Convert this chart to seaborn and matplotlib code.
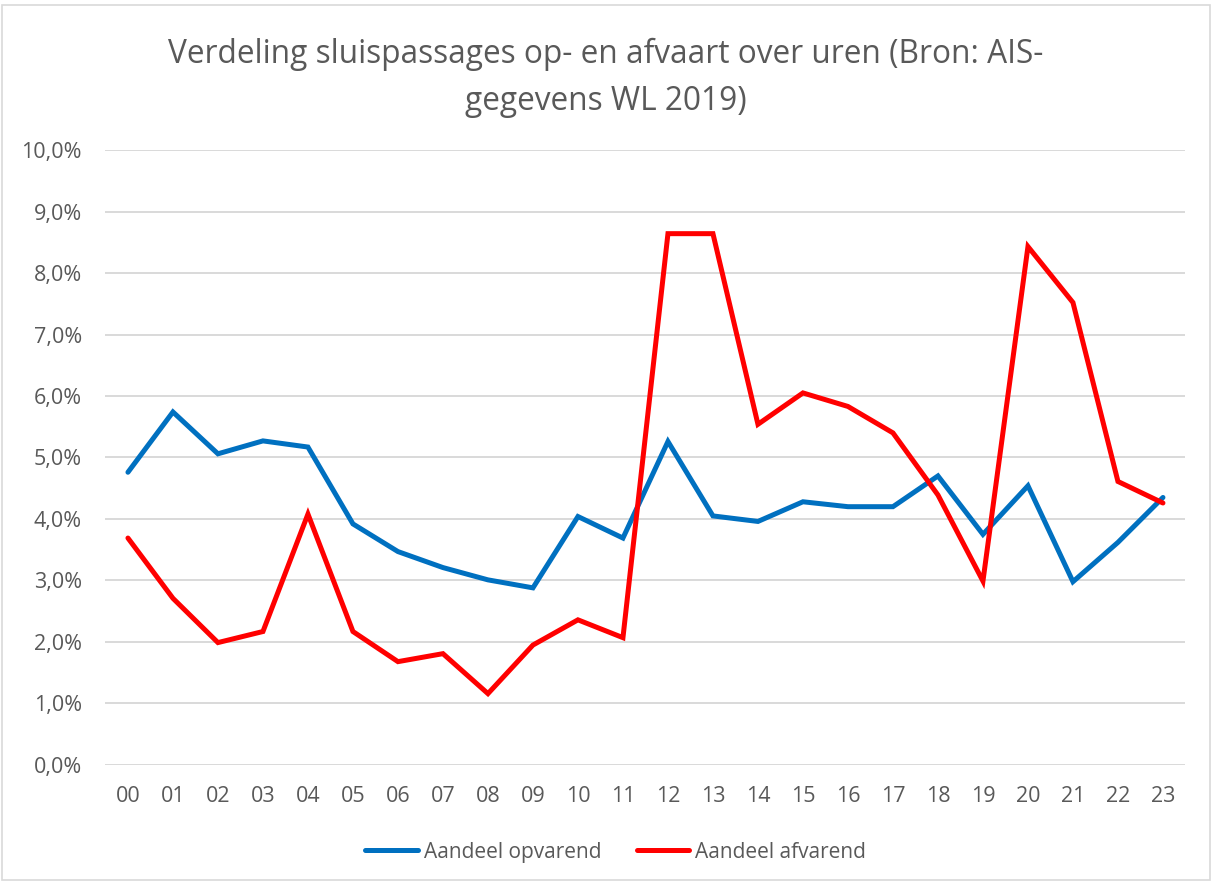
import matplotlib
matplotlib.use("Agg")
import matplotlib.pyplot as plt
from matplotlib.ticker import FuncFormatter, MultipleLocator
from matplotlib.patches import Rectangle
import seaborn as sns
import pandas as pd

hours = ["00", "01", "02", "03", "04", "05", "06", "07", "08", "09", "10", "11",
         "12", "13", "14", "15", "16", "17", "18", "19", "20", "21", "22", "23"]

opvarend = [4.76, 5.74, 5.06, 5.27, 5.17, 3.92, 3.47, 3.21, 3.01, 2.88, 4.04, 3.69,
            5.26, 4.05, 3.96, 4.28, 4.20, 4.20, 4.70, 3.75, 4.54, 2.98, 3.62, 4.35]
afvarend = [3.69, 2.71, 1.99, 2.17, 4.08, 2.17, 1.68, 1.81, 1.16, 1.95, 2.36, 2.07,
            8.64, 8.64, 5.54, 6.05, 5.83, 5.40, 4.39, 2.99, 8.43, 7.52, 4.61, 4.26]

series_names = ["Aandeel opvarend", "Aandeel afvarend"]
series_colors = ["#0070C0", "#FF0000"]

title = "Verdeling sluispassages op- en afvaart over uren (Bron: AIS-\ngegevens WL 2019)"

df = pd.DataFrame({
    "pos": list(range(len(hours))) * 2,
    "share": [v / 100 for v in opvarend] + [v / 100 for v in afvarend],
    "series": [series_names[0]] * len(hours) + [series_names[1]] * len(hours),
})

sns.set_theme(style="white")
plt.rcParams["font.family"] = ["Open Sans", "DejaVu Sans"]

text_color = "#595959"
grid_color = "#D9D9D9"

fig = plt.figure(figsize=(12.12, 8.82), dpi=100)
ax = fig.add_axes([0.0870, 0.1327, 0.8911, 0.6972])

sns.lineplot(data=df, x="pos", y="share", hue="series", hue_order=series_names,
             palette=series_colors, linewidth=3.6, sort=False, ax=ax, legend=False,
             solid_capstyle="round", solid_joinstyle="miter")

ax.set_xlim(-0.5, len(hours) - 0.5)
ax.set_ylim(0, 0.10)
ax.yaxis.set_major_locator(MultipleLocator(0.01))
ax.yaxis.set_major_formatter(FuncFormatter(lambda v, _: f"{v * 100:.1f}%".replace(".", ",")))
ax.set_xticks(range(len(hours)))
ax.set_xticklabels(hours)
ax.set_xlabel("")
ax.set_ylabel("")

ax.grid(axis="y", color=grid_color, linewidth=1.4)
ax.set_axisbelow(True)
for side in ["top", "right", "left", "bottom"]:
    ax.spines[side].set_visible(False)
ax.tick_params(axis="both", length=0, labelsize=15.5, colors=text_color)
ax.tick_params(axis="y", pad=17)
ax.tick_params(axis="x", pad=15)

fig.text(0.5, 0.9116, title, ha="center", va="center", fontsize=22.8,
         color=text_color, linespacing=1.55)

handles = [plt.Line2D([], [], color=c, linewidth=3.6, solid_capstyle="round")
           for c in series_colors]
fig.legend(handles, series_names, loc="center", bbox_to_anchor=(0.508, 0.034),
           ncol=2, frameon=False, fontsize=15, labelcolor=text_color,
           handlelength=2.5, handletextpad=0.3, columnspacing=1.7)

# light frame around the whole chart area
fig.patches.append(Rectangle((0.002, 0.002), 0.996, 0.992, transform=fig.transFigure,
                             fill=False, edgecolor=grid_color, linewidth=1.2))

fig.savefig("out.png", dpi=100, facecolor="white")
